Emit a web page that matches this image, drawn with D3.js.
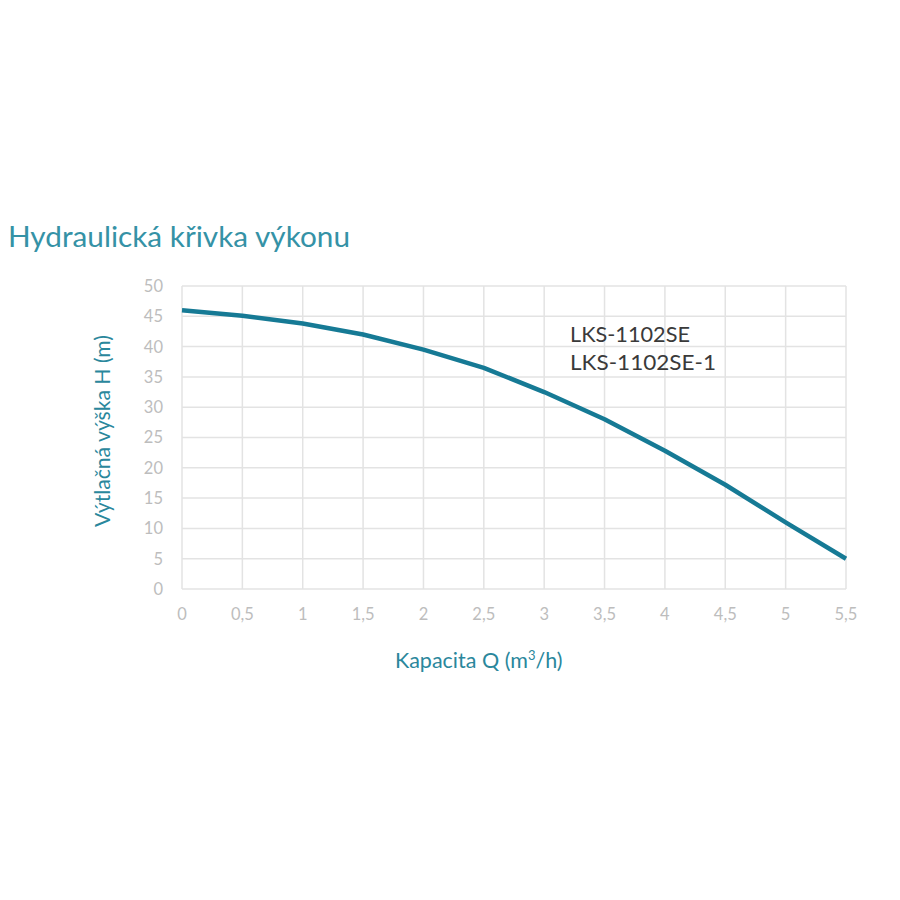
<!DOCTYPE html>
<html><head><meta charset="utf-8">
<script src="https://cdn.jsdelivr.net/npm/d3@7"></script>
<style>body{margin:0;background:#fff}</style>
</head><body>
<svg id="c" width="900" height="900"></svg>
<script>
const flow = [0,0.5,1,1.5,2,2.5,3,3.5,4,4.5,5,5.5];
const head = [46,45.1,43.8,42,39.5,36.5,32.5,28,22.8,17.2,11,5];
const xTicks = [0,0.5,1,1.5,2,2.5,3,3.5,4,4.5,5,5.5];
const yTicks = [0,5,10,15,20,25,30,35,40,45,50];
const legendLines = ["LKS-1102SE","LKS-1102SE-1"];

const svg = d3.select("#c");
const teal = "#2a879c";
const x = d3.scaleLinear().domain([0,5.5]).range([182,846]);
const y = d3.scaleLinear().domain([0,50]).range([589,286]);
const fmt = d => String(d).replace(".", ",");

svg.append("rect").attr("width",900).attr("height",900).attr("fill","#fff");

// grid
svg.append("g").selectAll("line").data(yTicks).join("line")
  .attr("x1",x(0)).attr("x2",x(5.5)).attr("y1",d=>y(d)).attr("y2",d=>y(d))
  .attr("stroke","#e3e3e3").attr("stroke-width",1.5);
svg.append("g").selectAll("line").data(xTicks).join("line")
  .attr("y1",y(0)).attr("y2",y(50)).attr("x1",d=>x(d)).attr("x2",d=>x(d))
  .attr("stroke","#e3e3e3").attr("stroke-width",1.5);

// axes labels
const font = "Lato, 'Open Sans', sans-serif";
svg.append("g").selectAll("text").data(yTicks).join("text")
  .attr("x",163).attr("y",d=>y(d)).attr("dy","0.36em").attr("text-anchor","end")
  .attr("font-family",font).attr("font-size",16.5).attr("fill","#bdbdbd").text(d=>d);
svg.append("g").selectAll("text").data(xTicks).join("text")
  .attr("x",d=>x(d)).attr("y",614).attr("dy","0.36em").attr("text-anchor","middle")
  .attr("font-family",font).attr("font-size",16.5).attr("fill","#bdbdbd").text(fmt);

// line
svg.append("path").datum(flow.map((f,i)=>[f,head[i]]))
  .attr("d", d3.line().x(d=>x(d[0])).y(d=>y(d[1])))
  .attr("fill","none").attr("stroke","#167a95").attr("stroke-width",4.5)
  .attr("stroke-linejoin","round");

// title
svg.append("text").attr("x",8).attr("y",247).attr("font-family",font)
  .attr("font-size",29).attr("font-weight",400).attr("fill","#3592a6")
  .attr("textLength",342).attr("lengthAdjust","spacingAndGlyphs")
  .text("Hydraulická křivka výkonu");

// y axis title
svg.append("text").attr("transform","translate(110,431) rotate(-90)")
  .attr("text-anchor","middle").attr("font-family",font).attr("font-size",21)
  .attr("fill",teal).attr("textLength",192).attr("lengthAdjust","spacingAndGlyphs")
  .text("Výtlačná výška H (m)");

// x axis title
const xt = svg.append("text").attr("x",395).attr("y",668)
  .attr("font-family",font).attr("font-size",21.5).attr("fill",teal);
xt.append("tspan").text("Kapacita Q (m");
xt.append("tspan").attr("font-size",13).attr("dy",-8).text("3");
xt.append("tspan").attr("dy",8).text("/h)");

// legend text
svg.append("g").selectAll("text").data(legendLines).join("text")
  .attr("x",570).attr("y",(d,i)=>342+i*28).attr("font-family",font)
  .attr("font-size",21).attr("font-weight",400).attr("fill","#3a3a3a")
  .attr("textLength",(d,i)=>i===0?120:146).attr("lengthAdjust","spacingAndGlyphs")
  .text(d=>d);
</script>
</body></html>
